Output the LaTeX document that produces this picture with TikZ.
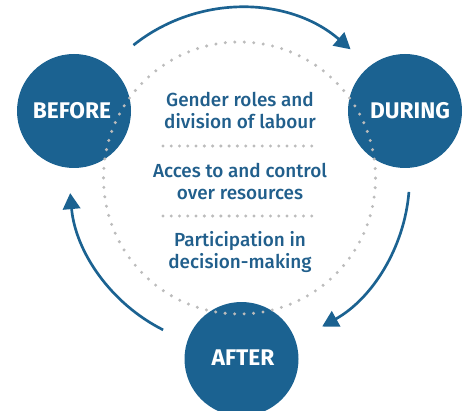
\documentclass[tikz,border=0pt]{standalone}
\usepackage{fontspec}
\setmainfont{Fira Sans}
\newfontfamily\mediumfont{Fira Sans Medium}
\usetikzlibrary{arrows.meta,calc}

\definecolor{phaseblue}{RGB}{27,98,145}
\definecolor{textblue}{RGB}{33,95,140}
\definecolor{dotgrey}{RGB}{188,188,188}

\tikzset{
  phase/.style={circle, fill=phaseblue, minimum size=85.5pt, inner sep=0pt},
  phaselabel/.style={text=white, font=\bfseries\fontsize{17}{20}\selectfont},
  topic/.style={align=center, text=textblue, font=\mediumfont\fontsize{14.2}{16.5}\selectfont},
  cyclearrow/.style={draw=phaseblue, line width=2pt, -{Triangle[length=12pt,width=13pt]}},
  dotring/.style={draw=dotgrey, line width=2.5pt, line cap=round, dash pattern=on 0pt off 7.12pt},
  dotrule/.style={draw=dotgrey, line width=2.5pt, line cap=round, dash pattern=on 0pt off 6.2pt},
}

\begin{document}
\begin{tikzpicture}[x=0.75pt, y=0.75pt]
  \useasboundingbox (0,0) rectangle (466,410);

  % centre of the cycle
  \coordinate (C) at (239.5,232);

  % the three phases
  \node[phase] (before) at (74,299) {};
  \node[phase] (during) at (405,299) {};
  \node[phase] (after)  at (241.5,51) {};

  % dotted ring through the phases
  \draw[dotring] (C) circle[radius=136];

  \node[phaselabel] (beforelbl) at (72,299) {BEFORE};
  \node[phaselabel] (duringlbl) at (410,299) {DURING};
  \node[phaselabel] (afterlbl)  at (243,52) {AFTER};

  % the three topics, separated by dotted rules
  \node[topic] (roles) at (240,300) {Gender roles and\\division of labour};
  \node[topic] (access) at (240,228.5) {Acces to and control\\over resources};
  \node[topic] (decide) at (240,158) {Participation in\\decision-making};

  \coordinate (r1a) at (163,264);
  \coordinate (r1b) at (312,264);
  \coordinate (r2a) at (163,194);
  \coordinate (r2b) at (312,194);
  \draw[dotrule] (r1a) -- (r1b);
  \draw[dotrule] (r2a) -- (r2b);

  % cycle arrows on a ring around the centre
  \coordinate (a1s) at ($(C)+(128.6:170)$);
  \coordinate (a2s) at ($(C)+(-4.7:170)$);
  \coordinate (a3s) at ($(C)+(243.3:170)$);
  \draw[cyclearrow] (a1s) arc[start angle=128.6, end angle=49.2, radius=170];
  \draw[cyclearrow] (a2s) arc[start angle=-4.7, end angle=-60.9, radius=170];
  \draw[cyclearrow] (a3s) arc[start angle=243.3, end angle=185.1, radius=170];
\end{tikzpicture}
\end{document}
